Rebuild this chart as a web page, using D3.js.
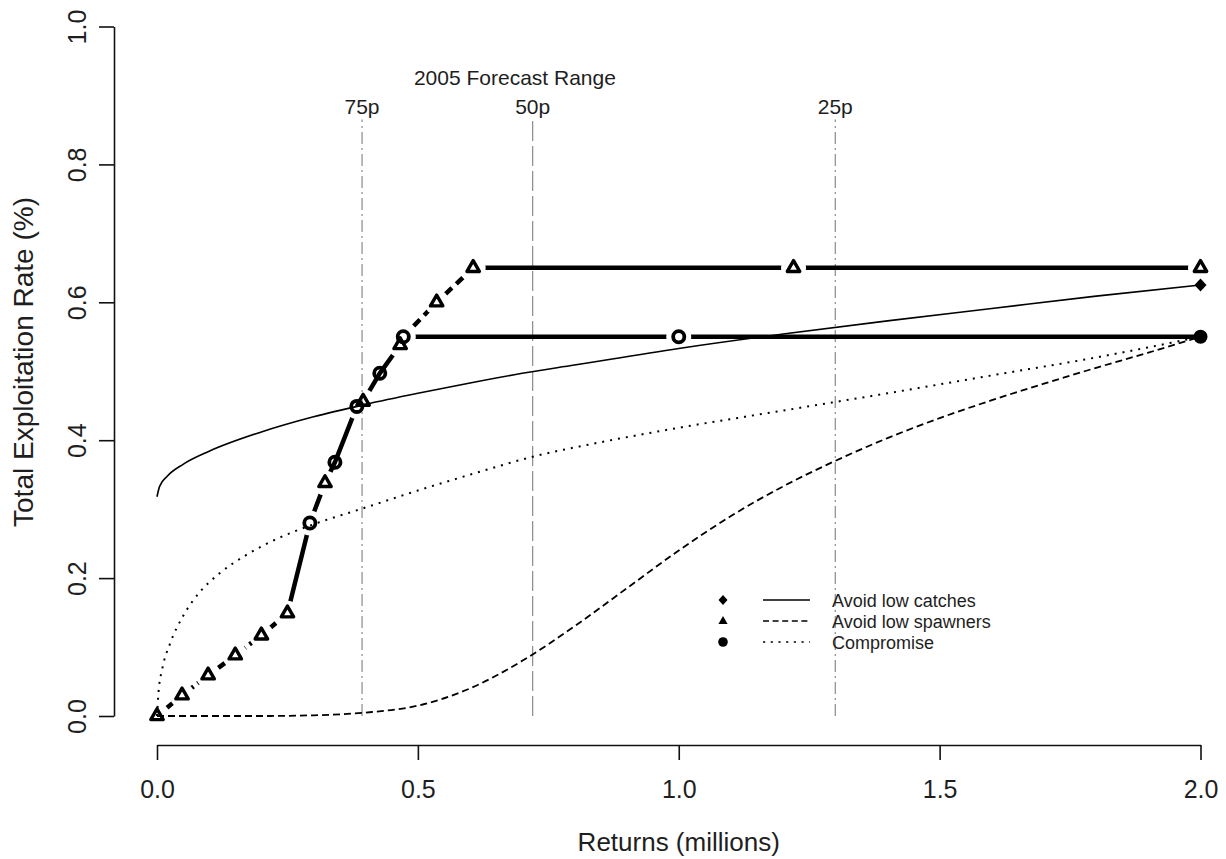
<!DOCTYPE html>
<html>
<head>
<meta charset="utf-8">
<script src="https://cdn.jsdelivr.net/npm/d3@7"></script>
<style>
  body { margin: 0; background: #fff; }
  text { font-family: "Liberation Sans", Arial, Helvetica, sans-serif; fill: #1e1e1e; }
</style>
</head>
<body>
<svg id="chart" width="1226" height="859"></svg>
<script>
// ---- axis ticks ----
const xTicks = [0, 0.5, 1.0, 1.5, 2.0];
const yTicks = [0, 0.2, 0.4, 0.6, 0.8, 1.0];

// ---- thin response curves (returns in millions vs. exploitation rate) ----
const catchX = [0, 0.005, 0.02, 0.05, 0.10, 0.20, 0.30, 0.40, 0.50, 0.60, 0.70, 0.80, 1.00, 1.20, 1.40, 1.60, 1.80, 2.00];
const catchY = [0.318, 0.333, 0.348, 0.365, 0.384, 0.412, 0.434, 0.452, 0.468, 0.483, 0.497, 0.509, 0.533, 0.554, 0.573, 0.591, 0.609, 0.625];

const spawnerX = [0, 0.10, 0.20, 0.30, 0.40, 0.50, 0.60, 0.70, 0.80, 0.90, 1.00, 1.10, 1.20, 1.30, 1.40, 1.50, 1.60, 1.70, 1.80, 1.90, 2.00];
const spawnerY = [0, 0, 0, 0.001, 0.005, 0.015, 0.040, 0.080, 0.130, 0.185, 0.240, 0.290, 0.333, 0.370, 0.403, 0.432, 0.458, 0.482, 0.505, 0.527, 0.550];

const compromiseX = [0, 0.003, 0.01, 0.025, 0.05, 0.08, 0.12, 0.17, 0.23, 0.30, 0.39, 0.50, 0.60, 0.72, 0.85, 1.00, 1.20, 1.40, 1.60, 1.80, 2.00];
const compromiseY = [0, 0.035, 0.068, 0.105, 0.145, 0.178, 0.207, 0.233, 0.257, 0.278, 0.300, 0.327, 0.350, 0.376, 0.397, 0.418, 0.443, 0.468, 0.494, 0.520, 0.550];

// ---- harvest rule (thick line), split by line type ----
const lowRampX = [0, 0.048, 0.098, 0.15, 0.20, 0.25];
const lowRampY = [0, 0.030, 0.059, 0.088, 0.117, 0.149];
const steepRiseX = [0.25, 0.293, 0.322, 0.341, 0.383, 0.395, 0.427, 0.466, 0.472];
const steepRiseY = [0.149, 0.280, 0.338, 0.368, 0.449, 0.456, 0.497, 0.538, 0.550];
const upperRampX = [0.472, 0.536, 0.606];
const upperRampY = [0.550, 0.600, 0.650];
const highPlateauX = [0.606, 1.22, 2.0];
const highPlateauY = [0.650, 0.650, 0.650];
const lowPlateauX = [0.472, 1.0, 2.0];
const lowPlateauY = [0.550, 0.550, 0.550];

// ---- point markers on the rule ----
const triangleX = [0, 0.048, 0.098, 0.15, 0.20, 0.25, 0.322, 0.395, 0.466, 0.536, 0.606, 1.22, 2.0];
const triangleY = [0, 0.030, 0.059, 0.088, 0.117, 0.149, 0.338, 0.456, 0.538, 0.600, 0.650, 0.650, 0.650];
const circleX = [0.293, 0.383, 0.472, 1.0];
const circleY = [0.280, 0.449, 0.550, 0.550];
const crossedCircleX = [0.341, 0.427];   // circles the rising line runs through
const crossedCircleY = [0.368, 0.497];
const endDiamondX = [2.0], endDiamondY = [0.625];
const endDotX = [2.0], endDotY = [0.550];

// ---- forecast percentiles ----
const forecastX = [0.393, 0.72, 1.30];
const forecastLabels = ["75p", "50p", "25p"];
const forecastTitle = "2005 Forecast Range";

// ---- legend ----
const legendLabels = ["Avoid low catches", "Avoid low spawners", "Compromise"];

const svg = d3.select("#chart");
svg.append("rect").attr("width", 1226).attr("height", 859).attr("fill", "#fff");

const x = d3.scaleLinear().domain([0, 2]).range([157, 1200.5]);
const y = d3.scaleLinear().domain([0, 1]).range([716, 26.5]);
const zip = (xs, ys) => xs.map((v, i) => [v, ys[i]]);

// axes
const xAxis = svg.append("g").attr("transform", "translate(0,745)")
  .call(d3.axisBottom(x).tickValues(xTicks).tickFormat(d3.format(".1f"))
    .tickSize(15).tickSizeOuter(0).tickPadding(20));
const yAxis = svg.append("g").attr("transform", "translate(114,0)")
  .call(d3.axisLeft(y).tickValues(yTicks).tickFormat(d3.format(".1f"))
    .tickSize(15).tickSizeOuter(0));
[xAxis, yAxis].forEach(g => {
  g.select(".domain").attr("stroke", "#111").attr("stroke-width", 1.6);
  g.selectAll(".tick line").attr("stroke", "#111").attr("stroke-width", 1.6);
  g.selectAll(".tick text").attr("font-size", 25).attr("font-family", null).attr("fill", "#1e1e1e");
});
yAxis.selectAll(".tick text")
  .attr("x", 0).attr("dy", 0).attr("text-anchor", "middle")
  .attr("transform", "translate(-28,0) rotate(-90)");

svg.append("text").attr("x", x(1)).attr("y", 851).attr("text-anchor", "middle")
  .attr("font-size", 26).text("Returns (millions)");
svg.append("text").attr("transform", "translate(33,362) rotate(-90)")
  .attr("text-anchor", "middle").attr("font-size", 28).text("Total Exploitation Rate (%)");

// forecast range lines
const forecastDash = ["12,4,2,4", "20,5", "12,4,2,4"];
forecastX.forEach((fx, i) => {
  svg.append("line").attr("x1", x(fx)).attr("x2", x(fx)).attr("y1", y(0)).attr("y2", y(0.865))
    .attr("stroke", "#8a8a8a").attr("stroke-width", 1.2).attr("stroke-dasharray", forecastDash[i]);
  svg.append("text").attr("x", x(fx)).attr("y", 114).attr("text-anchor", "middle")
    .attr("font-size", 21).text(forecastLabels[i]);
});
svg.append("text").attr("x", x(0.686)).attr("y", 85).attr("text-anchor", "middle")
  .attr("font-size", 21).text(forecastTitle);

// thin curves
const smooth = d3.line().x(d => x(d[0])).y(d => y(d[1])).curve(d3.curveMonotoneX);
svg.append("path").attr("d", smooth(zip(catchX, catchY)))
  .attr("fill", "none").attr("stroke", "#000").attr("stroke-width", 1.6);
svg.append("path").attr("d", smooth(zip(spawnerX, spawnerY)))
  .attr("fill", "none").attr("stroke", "#000").attr("stroke-width", 1.8).attr("stroke-dasharray", "7,4");
svg.append("path").attr("d", smooth(zip(compromiseX, compromiseY)))
  .attr("fill", "none").attr("stroke", "#000").attr("stroke-width", 2).attr("stroke-dasharray", "2,6");

// gaps in the thick rule around its markers
const defs = svg.append("defs");
const mask = defs.append("mask").attr("id", "markerGaps").attr("maskUnits", "userSpaceOnUse")
  .attr("x", 0).attr("y", 0).attr("width", 1226).attr("height", 859);
mask.append("rect").attr("width", 1226).attr("height", 859).attr("fill", "#fff");
zip(triangleX, triangleY).concat(zip(circleX, circleY)).forEach(d => {
  mask.append("circle").attr("cx", x(d[0])).attr("cy", y(d[1])).attr("r", 12.5).attr("fill", "#000");
});

const straight = d3.line().x(d => x(d[0])).y(d => y(d[1]));
const rule = svg.append("g").attr("mask", "url(#markerGaps)")
  .attr("fill", "none").attr("stroke", "#000").attr("stroke-width", 4.5);
rule.append("path").attr("d", straight(zip(lowRampX, lowRampY))).attr("stroke-dasharray", "8,5");
rule.append("path").attr("d", straight(zip(steepRiseX, steepRiseY)));
rule.append("path").attr("d", straight(zip(upperRampX, upperRampY))).attr("stroke-dasharray", "9,6");
rule.append("path").attr("d", straight(zip(highPlateauX, highPlateauY)));
rule.append("path").attr("d", straight(zip(lowPlateauX, lowPlateauY)));

// markers
const triPath = "M0,-7.2L6.2,3.6L-6.2,3.6Z";
svg.append("g").selectAll("path").data(zip(triangleX, triangleY)).join("path")
  .attr("d", triPath).attr("transform", d => `translate(${x(d[0])},${y(d[1])})`)
  .attr("fill", "none").attr("stroke", "#000").attr("stroke-width", 3.4).attr("stroke-linejoin", "round");
svg.append("g").selectAll("circle").data(zip(circleX, circleY).concat(zip(crossedCircleX, crossedCircleY))).join("circle")
  .attr("cx", d => x(d[0])).attr("cy", d => y(d[1])).attr("r", 5.6)
  .attr("fill", "none").attr("stroke", "#000").attr("stroke-width", 3.8);
svg.append("g").selectAll("circle").data(zip(endDotX, endDotY)).join("circle")
  .attr("cx", d => x(d[0])).attr("cy", d => y(d[1])).attr("r", 7).attr("fill", "#000");
svg.append("g").selectAll("path").data(zip(endDiamondX, endDiamondY)).join("path")
  .attr("d", "M0,-6.5L6,0L0,6.5L-6,0Z")
  .attr("transform", d => `translate(${x(d[0])},${y(d[1])})`).attr("fill", "#000");

// legend
const legendMarks = [
  g => g.append("path").attr("d", "M0,-5L4.5,0L0,5L-4.5,0Z").attr("fill", "#000"),
  g => g.append("path").attr("d", "M0,-5L4.6,3L-4.6,3Z").attr("fill", "#000"),
  g => g.append("circle").attr("r", 4.8).attr("fill", "#000")
];
const legendDash = [null, "6,3.6", "2.2,5.5"];
legendLabels.forEach((label, i) => {
  const ly = 600 + i * 21;
  const g = svg.append("g").attr("transform", `translate(723,${ly})`);
  legendMarks[i](g);
  svg.append("line").attr("x1", 763).attr("x2", 810).attr("y1", ly).attr("y2", ly)
    .attr("stroke", "#000").attr("stroke-width", 1.5).attr("stroke-dasharray", legendDash[i]);
  svg.append("text").attr("x", 832).attr("y", ly + 6.5).attr("font-size", 18).text(label);
});
</script>
</body>
</html>
